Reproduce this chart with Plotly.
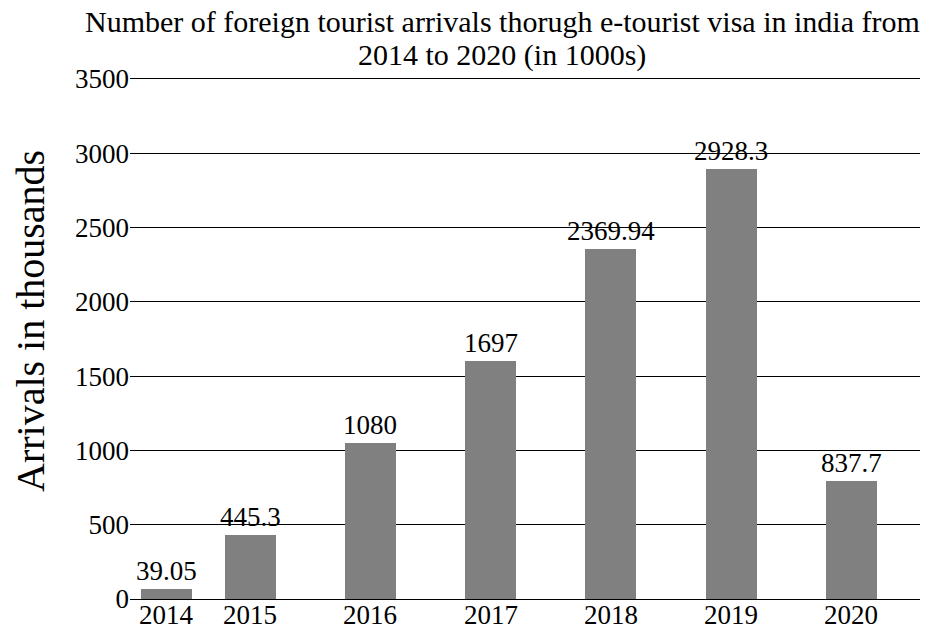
import plotly.graph_objects as go

# ---- data ----
years = ["2014", "2015", "2016", "2017", "2018", "2019", "2020"]
bar_heights = [67, 431, 1053, 1599, 2358, 2891, 795]          # drawn bar heights
bar_labels = ["39.05", "445.3", "1080", "1697", "2369.94", "2928.3", "837.7"]  # printed values
y_ticks = [0, 500, 1000, 1500, 2000, 2500, 3000, 3500]
title_lines = ["Number of foreign tourist arrivals thorugh e-tourist visa in india from",
               "2014 to 2020 (in 1000s)"]

# ---- layout helpers (positions of the bars along the numeric x axis) ----
bar_x = [2014.3, 2015, 2016, 2017, 2018, 2019, 2020]

FONT = "Liberation Serif"
OFF = 8                      # page body margin
W, H = 941 - OFF, 630 - OFF
ML, MR, MT, MB = 130 - OFF, 21, 79 - OFF, 31


def px_x(px):
    return (px - OFF - ML) / (W - ML - MR)


def px_y(py):
    return (H - MB - (py - OFF)) / (H - MT - MB)


fig = go.Figure()
fig.add_trace(go.Bar(
    x=bar_x,
    y=bar_heights,
    width=0.424,
    marker=dict(color="#808080", line=dict(width=0)),
    hoverinfo="skip",
))

annotations = []
# value labels above bars
for xv, yv, lab in zip(bar_x, bar_heights, bar_labels):
    annotations.append(dict(
        x=xv, y=yv, xref="x", yref="y", text=lab, showarrow=False,
        xanchor="center", yanchor="bottom", yshift=1,
        font=dict(family=FONT, size=27, color="black"),
    ))

# x tick labels (years) under each bar
for xv, yr in zip(bar_x, years):
    annotations.append(dict(
        x=xv, y=0, xref="x", yref="y", text=yr, showarrow=False,
        xanchor="center", yanchor="middle", yshift=-16, borderpad=0,
        font=dict(family=FONT, size=27, color="black"),
    ))

# y-axis title
annotations.append(dict(
    x=px_x(30), y=px_y(321), xref="paper", yref="paper",
    text="Arrivals in thousands", textangle=-90, showarrow=False,
    xanchor="center", yanchor="middle",
    font=dict(family=FONT, size=40, color="black"),
))

# title (two centred lines)
for line, cy in zip(title_lines, [22, 55]):
    annotations.append(dict(
        x=px_x(502), y=px_y(cy), xref="paper", yref="paper",
        text=line, showarrow=False, borderpad=0,
        xanchor="center", yanchor="middle",
        font=dict(family=FONT, size=30, color="black"),
    ))

fig.update_layout(
    width=W, height=H,
    margin=dict(l=ML, r=MR, t=MT, b=MB, pad=0, autoexpand=False),
    paper_bgcolor="white", plot_bgcolor="white",
    showlegend=False,
    bargap=0,
    xaxis=dict(
        range=[2014.0, 2020.57], automargin=False,
        showticklabels=False,
        showgrid=False, zeroline=False,
        showline=True, mirror=True, linecolor="black", linewidth=1,
        ticks="",
    ),
    yaxis=dict(
        range=[0, 3500], automargin=False,
        tickmode="array", tickvals=y_ticks,
        showgrid=True, gridcolor="black", gridwidth=1,
        zeroline=False, showline=False, ticks="",
        tickfont=dict(family=FONT, size=27, color="black"),
    ),
    annotations=annotations,
)

fig.write_html("out.html")
